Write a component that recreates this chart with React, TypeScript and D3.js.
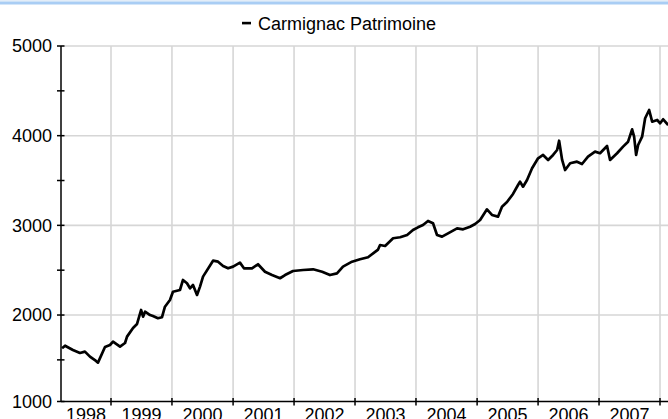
import * as d3 from "d3"

const SERIES_NAME = "Carmignac Patrimoine"

// fund value
const dates = [
  "1998-03-14", "1998-04-01", "1998-05-18", "1998-06-29", "1998-07-29", "1998-08-28",
  "1998-10-03", "1998-10-15", "1998-11-26", "1998-12-26", "1999-01-13", "1999-02-24",
  "1999-03-26", "1999-04-07", "1999-05-13", "1999-06-06", "1999-06-30", "1999-07-12",
  "1999-07-24", "1999-08-23", "1999-09-09", "1999-10-09", "1999-11-02", "1999-11-20",
  "1999-12-20", "2000-01-07", "2000-02-18", "2000-03-07", "2000-03-31", "2000-04-18",
  "2000-05-06", "2000-05-30", "2000-06-17", "2000-07-05", "2000-09-03", "2000-10-03",
  "2000-11-02", "2000-12-02", "2001-01-01", "2001-02-11", "2001-03-07", "2001-04-24",
  "2001-05-30", "2001-07-11", "2001-08-22", "2001-10-09", "2001-11-08", "2001-12-26",
  "2002-02-24", "2002-04-25", "2002-06-18", "2002-08-04", "2002-09-15", "2002-10-21",
  "2002-12-14", "2003-01-31", "2003-03-20", "2003-05-19", "2003-05-31", "2003-06-30",
  "2003-08-17", "2003-09-28", "2003-11-09", "2003-12-14", "2004-01-13", "2004-02-12",
  "2004-03-13", "2004-04-12", "2004-05-06", "2004-06-05", "2004-07-11", "2004-09-03",
  "2004-10-09", "2004-11-20", "2004-12-20", "2005-01-19", "2005-03-01", "2005-03-31",
  "2005-05-06", "2005-05-30", "2005-06-29", "2005-08-04", "2005-09-03", "2005-09-15",
  "2005-10-03", "2005-10-27", "2005-11-26", "2006-01-01", "2006-01-31", "2006-03-02",
  "2006-04-01", "2006-04-25", "2006-05-07", "2006-05-25", "2006-06-12", "2006-07-12",
  "2006-08-22", "2006-09-21", "2006-10-27", "2006-12-08", "2007-01-07", "2007-02-18",
  "2007-03-08", "2007-04-19", "2007-05-25", "2007-06-24", "2007-07-18", "2007-07-30",
  "2007-08-11", "2007-08-23", "2007-09-16", "2007-10-04", "2007-10-28", "2007-11-15",
  "2007-12-15", "2008-01-02", "2008-01-20", "2008-02-19",
]
const values = [
  1630, 1658, 1610, 1577, 1592, 1536,
  1488, 1469, 1644, 1666, 1703, 1647,
  1688, 1759, 1856, 1900, 2056, 1982,
  2037, 2000, 1989, 1964, 1975, 2093,
  2168, 2260, 2279, 2391, 2354, 2298,
  2335, 2224, 2317, 2428, 2606, 2595,
  2547, 2521, 2540, 2584, 2521, 2521,
  2566, 2483, 2446, 2410, 2446, 2491,
  2502, 2510, 2483, 2446, 2465, 2540,
  2595, 2622, 2644, 2730, 2781, 2770,
  2856, 2867, 2893, 2948, 2978, 3004,
  3049, 3023, 2893, 2874, 2911, 2967,
  2956, 2985, 3015, 3060, 3179, 3116,
  3097, 3208, 3260, 3350, 3450, 3487,
  3431, 3506, 3636, 3748, 3785, 3729,
  3785, 3840, 3944, 3729, 3617, 3692,
  3710, 3684, 3766, 3822, 3804, 3885,
  3729, 3804, 3878, 3933, 4071, 3989,
  3785, 3896, 3989, 4194, 4286, 4156,
  4175, 4138, 4183, 4119,
]

const yTickValues = [1000, 2000, 3000, 4000, 5000]
const yMinorValues = [1500, 2500, 3500, 4500]
const yearLabels = ["1998", "1999", "2000", "2001", "2002", "2003", "2004", "2005", "2006", "2007"]

const W = 668
const H = 419
const left = 61
const top = 46
const bottom = 401.5
const font = "'Liberation Sans', Arial, sans-serif"

export default function App() {
  const parse = d3.timeParse("%Y-%m-%d")
  const data = dates.map((d, i) => ({ date: parse(d) as Date, value: values[i] }))

  const x = d3.scaleTime()
    .domain([new Date(1999, 0, 1), new Date(2008, 0, 1)])
    .range([111, 660])
  const y = d3.scaleLinear().domain([1000, 5000]).range([404.7, top])

  const line = d3.line<{ date: Date; value: number }>()
    .x((d) => x(d.date))
    .y((d) => y(d.value))

  const yearStarts = yearLabels.map((yr) => new Date(+yr + 1, 0, 1))
  const ty = (v: number) => Math.min(y(v), bottom)

  return (
    <svg width={W} height={H} style={{ position: "absolute", left: 0, top: 0, background: "#fff" }}
      fontFamily={font}>
      <rect x={0} y={0} width={W} height={1.5} fill="#e3edf8" />
      <rect x={0} y={1.5} width={W} height={3} fill="#a9cdf4" />

      {/* legend */}
      <rect x={242} y={21.8} width={9} height={2.6} fill="#000" />
      <text x={258} y={29.5} fontSize={18} fill="#000">{SERIES_NAME}</text>

      <clipPath id="plot">
        <rect x={left} y={0} width={W - left} height={bottom + 2} />
      </clipPath>

      {/* grid */}
      <g stroke="#d6d6d6" strokeWidth={1.6}>
        {yTickValues.filter((v) => v > 1000).map((v) => (
          <line key={v} x1={left} x2={W} y1={y(v)} y2={y(v)} />
        ))}
        {yearStarts.map((d, i) => (
          <line key={i} x1={x(d)} x2={x(d)} y1={top} y2={bottom} />
        ))}
      </g>

      <path d={line(data) ?? ""} fill="none" stroke="#000" strokeWidth={2.7}
        strokeLinejoin="round" clipPath="url(#plot)" />

      {/* axes */}
      <g stroke="#000" strokeWidth={1.5}>
        <line x1={left} x2={left} y1={top} y2={bottom} />
        <line x1={left} x2={W} y1={bottom} y2={bottom} />
        {[...yTickValues, ...yMinorValues].map((v) => (
          <line key={v} x1={57} x2={64.5} y1={ty(v)} y2={ty(v)} />
        ))}
        {yearStarts.map((d, i) => (
          <line key={i} x1={x(d)} x2={x(d)} y1={398} y2={405.5} />
        ))}
      </g>

      <g fontSize={18} fill="#000">
        {yTickValues.map((v) => (
          <text key={v} x={52} y={ty(v)} dy="0.35em" textAnchor="end">{v}</text>
        ))}
        {yearLabels.map((yr, i) => {
          const a = Math.max(left, x(new Date(+yr, 0, 1)))
          const b = x(yearStarts[i])
          return <text key={yr} x={(a + b) / 2} y={420.5} textAnchor="middle">{yr}</text>
        })}
      </g>
    </svg>
  )
}
